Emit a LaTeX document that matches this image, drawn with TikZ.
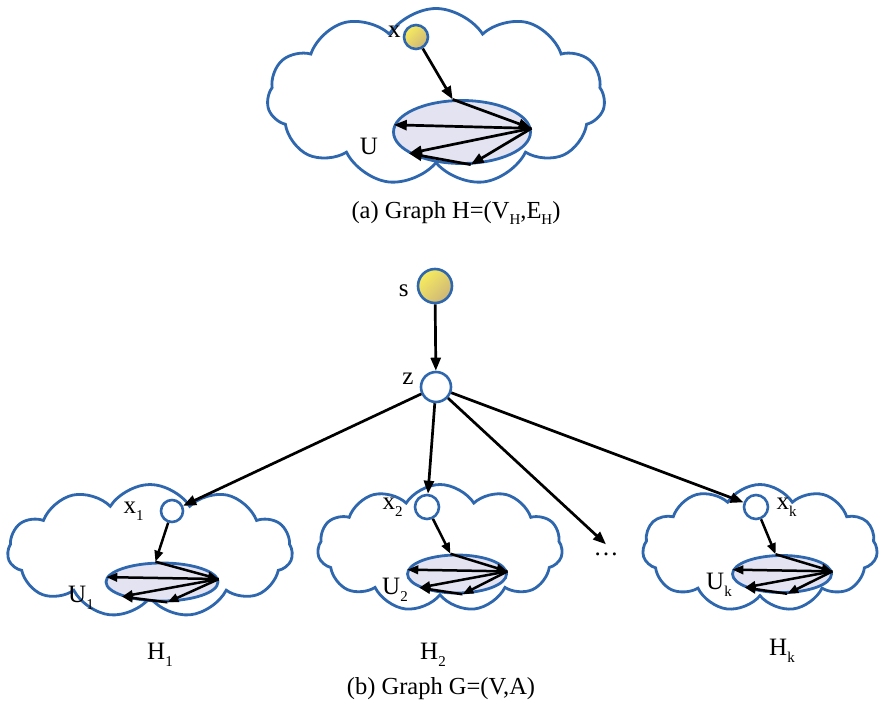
\documentclass[tikz,border=0pt]{standalone}
\usepackage{fontspec}
\setmainfont{Liberation Serif}
\usetikzlibrary{arrows.meta,positioning,shapes.geometric,shapes.symbols}
\definecolor{cloudblue}{HTML}{2E67AD}
\definecolor{setfill}{HTML}{E3E3F1}
\definecolor{srcyellow}{HTML}{F8EC5E}
\definecolor{srckhaki}{HTML}{CDB578}
\newcommand{\lowsub}[1]{\raisebox{-0.6ex}{\fontsize{15}{15}\selectfont #1}}

\begin{document}
\begin{tikzpicture}[x=1pt, y=-1pt,
    cloudbox/.style={cloud, cloud puffs=11, cloud puff arc=115, cloud ignores aspect,
      draw=cloudblue, line width=2.8pt, inner sep=0pt},
    setbox/.style={ellipse, draw=cloudblue, fill=setfill, line width=2.8pt, inner sep=0pt},
    vertex/.style={circle, draw=cloudblue, fill=white, line width=2.6pt, inner sep=0pt},
    source/.style={circle, draw=cloudblue, line width=2.6pt, inner sep=0pt,
      top color=srcyellow, bottom color=srckhaki, shading angle=45},
    lbl/.style={font=\fontsize{25}{28}\selectfont, inner sep=0pt},
    caption/.style={font=\fontsize{24.5}{28}\selectfont, inner sep=0pt},
    arrow/.style={-{Triangle[length=13pt, width=10pt]}, line width=2.7pt},
    arrowsm/.style={-{Triangle[length=11pt, width=8.5pt]}, line width=2.5pt}
  ]
  \useasboundingbox (0,0) rectangle (879,709);

  % (a) the graph H
  \node[cloudbox, minimum width=338pt, minimum height=177pt] (H) at (436,97) {};
  \node[setbox, minimum width=137pt, minimum height=63pt] (U) at (462,132) {};
  \node[source, minimum size=24pt] (x) at (416,37) {};
  \node[lbl, left=2pt of x, yshift=5pt] (xlbl) {x};
  \node[lbl] (Ulbl) at (369,146) {U};
  \draw[arrow] (x) -- (U.106);
  \draw[arrow] (U.106) -- (U.3);
  \draw[arrow] (U.3) -- (U.174);
  \draw[arrow] (U.3) -- (U.202);
  \draw[arrow] (U.3) -- (U.285);
  \draw[arrow] (U.285) -- (U.202);
  \node[caption] (capa) at (456,213) {(a) Graph H=(V\lowsub{H},E\lowsub{H})};

  % (b) the graph G
  \node[source, minimum size=34pt] (s) at (435,286) {};
  \node[vertex, minimum size=30pt] (z) at (436,387) {};
  \node[lbl, left=8pt of s, yshift=-5pt] (slbl) {s};
  \node[lbl, left=6pt of z, yshift=8pt] (zlbl) {z};
  \draw[arrow] (s) -- (z);

  \foreach \i/\cx/\cy/\cw/\ch/\ex/\ey/\ew/\eh/\vx/\vy/\vs in {
      1/150/551/285/133/162/582/112/38/172/511/22,
      2/440/548/245/127/457/574/99/38/427/507/24,
      k/760/548/235/127/782/574/99/37/756/507/24} {
    \node[cloudbox, minimum width=\cw pt, minimum height=\ch pt] (H\i) at (\cx,\cy) {};
    \node[setbox, minimum width=\ew pt, minimum height=\eh pt] (U\i) at (\ex,\ey) {};
    \node[vertex, minimum size=\vs pt] (x\i) at (\vx,\vy) {};
    \draw[arrowsm] (x\i) -- (U\i.108);
    \draw[arrowsm] (U\i.108) -- (U\i.3);
    \draw[arrowsm] (U\i.3) -- (U\i.175);
    \draw[arrowsm] (U\i.3) -- (U\i.200);
    \draw[arrowsm] (U\i.3) -- (U\i.285);
    \draw[arrowsm] (U\i.285) -- (U\i.200);
  }

  \node[lbl, left=16pt of x1] (x1lbl) {x\lowsub{1}};
  \node[lbl, left=11pt of x2] (x2lbl) {x\lowsub{2}};
  \node[lbl, right=7pt of xk] (xklbl) {x\lowsub{k}};
  \node[lbl] (U1lbl) at (81,598) {U\lowsub{1}};
  \node[lbl] (U2lbl) at (395,590) {U\lowsub{2}};
  \node[lbl] (Uklbl) at (719,585) {U\lowsub{k}};
  \node[lbl] (H1lbl) at (160,655) {H\lowsub{1}};
  \node[lbl] (H2lbl) at (433,655) {H\lowsub{2}};
  \node[lbl] (Hklbl) at (782,651) {H\lowsub{k}};
  \node[lbl, inner sep=8pt] (dots) at (606,554) {\dots};

  \draw[arrow] (z) -- (x1);
  \draw[arrow] (z) -- (x2);
  \draw[arrow] (z) -- (dots.north);
  \draw[arrow] (z) -- (xk);

  \node[caption] (capb) at (441,689) {(b) Graph G=(V,A)};
\end{tikzpicture}
\end{document}
